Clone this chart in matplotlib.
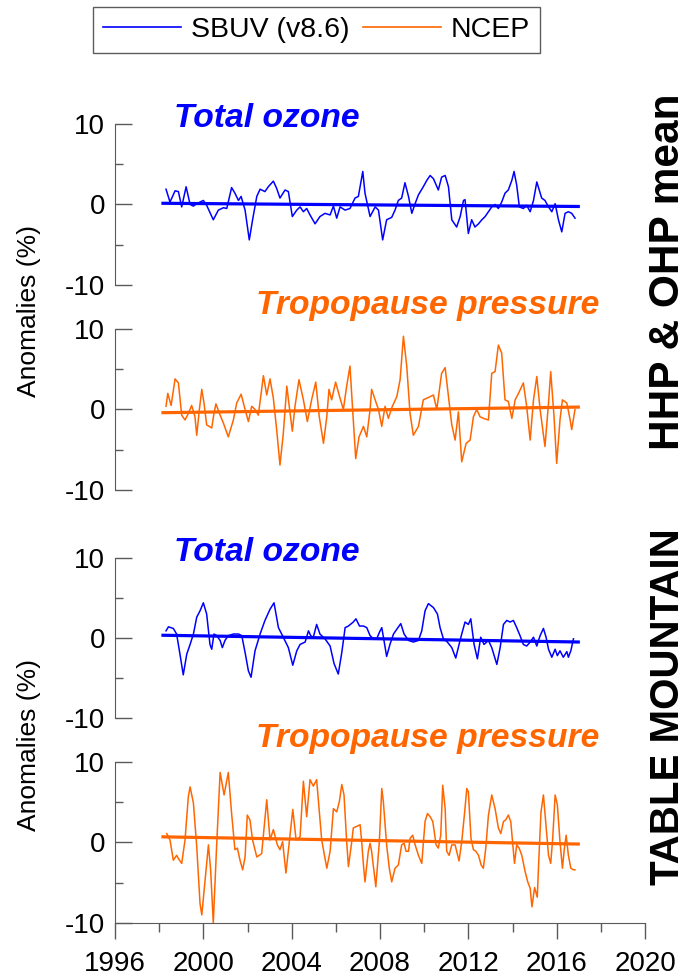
import matplotlib
matplotlib.use('Agg')
import matplotlib.pyplot as plt
from matplotlib.ticker import MultipleLocator

plt.rcParams['font.family'] = ['Liberation Sans', 'DejaVu Sans']
plt.rcParams['axes.unicode_minus'] = False

BLUE = '#0000FF'
ORANGE = '#FF6600'

# --- HHP & OHP mean, SBUV total ozone anomalies (%)
yrs_hhp_o3 = [1998.31, 1998.49, 1998.72, 1998.87, 1999.02, 1999.22, 1999.40, 1999.55, 1999.70, 2000.00,
              2000.15, 2000.45, 2000.68, 2000.91, 2001.06, 2001.28, 2001.43, 2001.59, 2001.71, 2001.89,
              2002.08, 2002.23, 2002.42, 2002.57, 2002.79, 2002.94, 2003.17, 2003.32, 2003.47, 2003.70,
              2003.85, 2004.03, 2004.23, 2004.38, 2004.53, 2004.68, 2004.83, 2005.06, 2005.28, 2005.51,
              2005.74, 2005.89, 2006.04, 2006.19, 2006.42, 2006.64, 2006.87, 2007.02, 2007.22, 2007.32,
              2007.55, 2007.78, 2007.93, 2008.12, 2008.30, 2008.53, 2008.68, 2008.83, 2008.98, 2009.13,
              2009.29, 2009.44, 2009.59, 2009.74, 2009.96, 2010.12, 2010.27, 2010.42, 2010.64, 2010.79,
              2010.95, 2011.10, 2011.25, 2011.47, 2011.63, 2011.78, 2011.85, 2012.00, 2012.15, 2012.30,
              2012.46, 2012.61, 2012.76, 2012.91, 2013.06, 2013.21, 2013.36, 2013.51, 2013.66, 2013.81,
              2013.97, 2014.07, 2014.19, 2014.31, 2014.49, 2014.64, 2014.80, 2014.95, 2015.10, 2015.32,
              2015.47, 2015.63, 2015.78, 2015.93, 2016.08, 2016.23, 2016.38, 2016.53, 2016.68, 2016.83]
hhp_o3 = [1.9, 0.3, 1.7, 1.6, -0.3, 2.2, 0.0, -0.2, 0.1, 0.5,
          -0.1, -1.9, -0.7, -0.4, -0.5, 2.1, 1.4, 0.5, 1.0, -0.7,
          -4.4, -1.9, 1.0, 1.9, 1.6, 2.2, 2.9, 2.0, 0.8, 1.8,
          1.6, -1.5, -0.7, -0.3, -0.9, -0.5, -1.3, -2.4, -1.5, -1.1,
          -1.3, -0.2, -1.7, -0.3, -0.7, -0.5, 0.8, 1.0, 4.1, 1.4,
          -1.5, -0.3, -0.7, -4.4, -1.9, -1.6, -0.7, 0.5, 0.8, 2.7,
          1.0, -1.1, 0.1, 1.2, 2.2, 3.0, 3.6, 3.2, 1.8, 3.4,
          3.6, 2.2, -1.9, -2.8, -1.5, 0.5, 0.6, -3.6, -1.9, -2.8,
          -2.4, -1.9, -1.5, -0.9, -0.3, 0.0, -0.5, 0.3, 1.4, 1.8,
          3.0, 4.1, 2.4, -0.3, -0.5, -0.1, -0.9, 0.5, 2.8, 0.8,
          0.5, -0.3, -0.9, 0.1, -1.9, -3.4, -1.1, -0.9, -1.1, -1.7]

# --- HHP & OHP mean, NCEP tropopause pressure anomalies (%)
yrs_hhp_tp = [1998.31, 1998.39, 1998.54, 1998.72, 1998.87, 1999.02, 1999.17, 1999.32, 1999.47, 1999.62,
              1999.70, 1999.82, 1999.93, 2000.03, 2000.15, 2000.38, 2000.48, 2000.57, 2000.73, 2000.91,
              2001.13, 2001.36, 2001.51, 2001.71, 2001.89, 2002.04, 2002.19, 2002.34, 2002.49, 2002.72,
              2002.87, 2003.02, 2003.17, 2003.32, 2003.47, 2003.62, 2003.78, 2003.93, 2004.03, 2004.15,
              2004.33, 2004.53, 2004.71, 2004.91, 2005.09, 2005.25, 2005.44, 2005.59, 2005.69, 2005.81,
              2005.99, 2006.19, 2006.34, 2006.49, 2006.64, 2006.76, 2006.90, 2007.05, 2007.25, 2007.40,
              2007.55, 2007.62, 2007.78, 2007.93, 2008.08, 2008.23, 2008.38, 2008.53, 2008.76, 2008.91,
              2009.06, 2009.21, 2009.36, 2009.51, 2009.74, 2009.96, 2010.12, 2010.27, 2010.42, 2010.57,
              2010.79, 2010.95, 2011.10, 2011.25, 2011.40, 2011.55, 2011.70, 2011.90, 2012.08, 2012.23,
              2012.38, 2012.53, 2012.68, 2012.91, 2013.06, 2013.21, 2013.36, 2013.51, 2013.66, 2013.81,
              2013.97, 2014.12, 2014.27, 2014.49, 2014.64, 2014.80, 2014.95, 2015.10, 2015.25, 2015.47,
              2015.63, 2015.73, 2015.88, 2016.00, 2016.15, 2016.26, 2016.46, 2016.61, 2016.68, 2016.83]
hhp_tp = [0.4, 2.0, 0.5, 3.8, 3.3, -0.7, -1.3, -0.5, 0.5, -0.9,
          -3.2, 0.0, 2.5, 0.8, -1.9, -2.3, -0.5, 0.7, -0.5, -1.7,
          -3.4, -1.3, 0.8, 1.9, 0.0, -1.5, 0.4, 0.0, -0.7, 4.2,
          1.8, 3.8, 1.4, -2.5, -6.9, -3.0, 2.9, -0.5, -2.7, 0.4,
          3.7, 1.2, -1.5, 1.3, 3.4, -0.9, -4.2, -0.9, 2.5, 1.2,
          3.4, 1.4, 0.0, 2.9, 5.4, 0.0, -6.1, -3.4, -2.1, -3.4,
          0.0, 2.5, 1.2, 0.0, -2.1, 0.4, -1.1, 0.2, 1.6, 3.7,
          9.1, 5.4, -0.5, -3.2, -2.1, 1.2, 1.4, 1.6, 1.8, 0.0,
          4.5, 5.2, 1.6, -1.9, -3.8, -0.3, -6.5, -4.2, -3.8, -0.9,
          0.0, -0.9, -1.1, -1.3, 4.5, 4.7, 8.0, 7.0, 1.2, 1.0,
          -1.1, 1.2, 2.0, 3.3, 0.4, -3.8, 1.2, 4.1, 0.0, -4.6,
          0.8, 4.7, -0.9, -6.7, -1.3, 1.2, 0.8, -1.3, -2.5, 0.0]

# --- Table Mountain, SBUV total ozone anomalies (%)
yrs_tmo_o3 = [1998.31, 1998.42, 1998.64, 1998.79, 1998.94, 1999.09, 1999.25, 1999.40, 1999.55, 1999.70,
              1999.85, 2000.00, 2000.15, 2000.30, 2000.38, 2000.48, 2000.60, 2000.76, 2000.86, 2000.98,
              2001.13, 2001.36, 2001.59, 2001.74, 2001.89, 2002.04, 2002.16, 2002.34, 2002.57, 2002.79,
              2003.02, 2003.20, 2003.40, 2003.62, 2003.85, 2004.05, 2004.23, 2004.38, 2004.61, 2004.76,
              2004.86, 2004.98, 2005.13, 2005.28, 2005.51, 2005.74, 2005.92, 2006.11, 2006.27, 2006.42,
              2006.57, 2006.79, 2006.91, 2007.07, 2007.25, 2007.40, 2007.55, 2007.70, 2007.85, 2007.97,
              2008.08, 2008.18, 2008.30, 2008.45, 2008.61, 2008.76, 2008.94, 2009.09, 2009.29, 2009.51,
              2009.74, 2009.89, 2010.04, 2010.19, 2010.42, 2010.60, 2010.72, 2010.87, 2011.05, 2011.25,
              2011.43, 2011.58, 2011.70, 2011.85, 2012.00, 2012.11, 2012.26, 2012.41, 2012.56, 2012.71,
              2012.91, 2013.06, 2013.29, 2013.44, 2013.59, 2013.74, 2013.89, 2014.04, 2014.19, 2014.34,
              2014.49, 2014.64, 2014.80, 2014.95, 2015.10, 2015.25, 2015.40, 2015.52, 2015.63, 2015.78,
              2015.93, 2016.03, 2016.15, 2016.30, 2016.46, 2016.53, 2016.64, 2016.76]
tmo_o3 = [0.9, 1.4, 1.2, 0.5, -2.0, -4.6, -2.0, -0.8, 0.5, 2.6,
          3.4, 4.4, 3.0, -0.8, -1.4, 0.5, 0.3, -0.3, -1.2, -0.3,
          0.3, 0.5, 0.5, 0.3, -1.8, -4.1, -4.9, -1.6, 0.5, 2.2,
          3.6, 4.4, 1.3, 0.1, -1.2, -3.4, -1.6, -0.8, -0.5, 0.9,
          0.3, 0.1, 1.7, 0.5, -0.1, -1.0, -3.2, -4.5, -1.8, 1.3,
          1.5, 2.0, 2.4, 1.5, 1.5, 1.3, 0.3, -0.1, -0.1, 0.7,
          1.3, -0.3, -2.3, -0.8, 0.5, 1.1, 1.8, 0.5, -0.3, -0.5,
          -0.3, 0.9, 3.4, 4.3, 3.8, 3.0, 1.3, -0.1, -0.5, -1.2,
          -2.5, -0.8, 0.5, 2.0, 1.7, 2.4, -0.8, -2.6, 0.1, -0.8,
          -0.3, -1.2, -3.3, -1.2, 1.7, 2.2, 2.0, 2.2, 1.3, 0.3,
          -0.8, -1.0, -0.5, 0.1, -1.0, 0.3, 1.2, 0.1, -1.4, -2.4,
          -1.4, -2.2, -1.6, -2.4, -1.7, -2.4, -1.6, -0.1]

# --- Table Mountain, NCEP tropopause pressure anomalies (%)
yrs_tmo_tp = [1998.34, 1998.49, 1998.64, 1998.79, 1998.87, 1999.02, 1999.17, 1999.32, 1999.40, 1999.55,
              1999.70, 1999.85, 1999.93, 2000.08, 2000.23, 2000.33, 2000.45, 2000.60, 2000.76, 2000.94,
              2001.13, 2001.28, 2001.43, 2001.54, 2001.66, 2001.78, 2001.89, 2001.99, 2002.11, 2002.23,
              2002.42, 2002.64, 2002.87, 2003.02, 2003.17, 2003.35, 2003.47, 2003.59, 2003.74, 2003.90,
              2004.05, 2004.20, 2004.38, 2004.53, 2004.68, 2004.83, 2004.98, 2005.13, 2005.36, 2005.59,
              2005.74, 2005.89, 2006.04, 2006.16, 2006.27, 2006.37, 2006.49, 2006.57, 2006.72, 2006.79,
              2006.94, 2007.10, 2007.17, 2007.25, 2007.32, 2007.47, 2007.55, 2007.62, 2007.81, 2007.97,
              2008.08, 2008.15, 2008.30, 2008.42, 2008.53, 2008.68, 2008.83, 2008.98, 2009.09, 2009.18,
              2009.29, 2009.36, 2009.48, 2009.59, 2009.74, 2009.89, 2010.04, 2010.15, 2010.27, 2010.39,
              2010.54, 2010.64, 2010.75, 2010.84, 2010.95, 2011.02, 2011.13, 2011.25, 2011.40, 2011.58,
              2011.70, 2011.82, 2011.93, 2012.00, 2012.12, 2012.23, 2012.34, 2012.46, 2012.58, 2012.68,
              2012.79, 2012.91, 2013.06, 2013.21, 2013.36, 2013.47, 2013.59, 2013.69, 2013.81, 2013.92,
              2014.00, 2014.09, 2014.19, 2014.30, 2014.42, 2014.57, 2014.69, 2014.80, 2014.88, 2015.00,
              2015.12, 2015.20, 2015.29, 2015.40, 2015.50, 2015.63, 2015.73, 2015.82, 2015.93, 2016.03,
              2016.15, 2016.26, 2016.35, 2016.43, 2016.53, 2016.64, 2016.76, 2016.83]
tmo_tp = [1.1, 0.3, -2.2, -1.6, -2.0, -2.6, 0.3, 5.7, 6.9, 4.9,
          -0.5, -7.6, -9.0, -4.7, -0.3, -3.4, -10.0, -0.5, 8.7, 5.9,
          8.7, 3.6, -0.9, -0.7, -2.2, -3.4, -1.8, 3.4, 2.8, 0.3,
          -1.8, -1.4, 5.3, 0.3, 1.6, -0.3, -0.9, 0.1, -3.8, 0.3,
          4.1, 0.3, 0.7, 7.6, 3.2, 7.8, 7.0, 7.8, 0.3, -3.2,
          -1.1, 4.2, 3.8, 5.1, 7.2, 5.9, 0.1, -3.0, 0.1, 1.8,
          2.0, 2.2, 0.1, -2.8, -4.9, -1.1, -0.1, -1.1, -5.5, 0.1,
          6.7, 5.1, -0.3, -3.2, -4.9, -3.2, -2.8, -0.3, -0.1, -1.1,
          -1.1, 0.5, 0.9, -0.3, -1.6, -2.6, 2.6, 3.6, 3.2, 2.6,
          -0.3, -0.7, 0.9, 7.1, 4.2, -1.1, -1.6, -0.3, -0.3, -2.3,
          0.1, 3.4, 6.7, 6.3, 0.5, -0.9, -1.1, -1.6, -2.8, -3.2,
          -0.7, 3.4, 5.9, 4.2, 1.8, 1.1, 2.6, 2.8, 3.4, 2.6,
          0.1, -2.6, -0.3, -0.7, -1.6, -3.6, -4.9, -5.7, -8.0, -5.6,
          -6.8, -1.6, 3.8, 5.9, 2.6, -1.6, -2.6, 0.5, 5.9, 4.7,
          0.1, -3.2, -0.7, 0.9, -1.6, -3.2, -3.4, -3.4]

# linear trend end points (start / end of record)
trend_yrs = [1998.1, 2017.05]
hhp_o3_trend = [0.15, -0.25]
hhp_tp_trend = [-0.4, 0.3]
tmo_o3_trend = [0.35, -0.5]
tmo_tp_trend = [0.7, -0.2]

xticks = [1996, 2000, 2004, 2008, 2012, 2016, 2020]

panels = [
    (yrs_hhp_o3, hhp_o3, hhp_o3_trend, BLUE, 'Total ozone'),
    (yrs_hhp_tp, hhp_tp, hhp_tp_trend, ORANGE, 'Tropopause pressure'),
    (yrs_tmo_o3, tmo_o3, tmo_o3_trend, BLUE, 'Total ozone'),
    (yrs_tmo_tp, tmo_tp, tmo_tp_trend, ORANGE, 'Tropopause pressure'),
]
# axes rectangles in figure fraction
rects = [
    [0.1662, 0.7092, 0.7659, 0.1643],
    [0.1662, 0.5000, 0.7659, 0.1643],
    [0.1662, 0.2673, 0.7659, 0.1633],
    [0.1662, 0.0582, 0.7659, 0.1643],
]
title_pos = {'Total ozone': (0.286, 1.035), 'Tropopause pressure': (0.59, 1.145)}

fig = plt.figure(figsize=(6.92, 9.8), dpi=100)
spine_col = '#5a5a5a'

axes = []
for i, (yrs, vals, trend, col, title) in enumerate(panels):
    ax = fig.add_axes(rects[i])
    ax.plot(yrs, vals, color=col, lw=1.1)
    ax.plot(trend_yrs, trend, color=col, lw=2.3, solid_capstyle='butt')
    ax.set_xlim(1996, 2020)
    ax.set_ylim(-10, 10)
    ax.set_yticks([-10, 0, 10])
    ax.yaxis.set_minor_locator(MultipleLocator(5))
    ax.tick_params(axis='y', which='major', direction='in', length=12, width=1,
                   color=spine_col, labelsize=20, pad=7)
    ax.tick_params(axis='y', which='minor', direction='in', length=6, width=1, color=spine_col)
    for s in ['top', 'right']:
        ax.spines[s].set_visible(False)
    ax.spines['left'].set_color(spine_col)
    ax.patch.set_alpha(0)
    if i < 3:
        ax.spines['bottom'].set_visible(False)
        ax.set_xticks([])
    else:
        ax.spines['bottom'].set_color(spine_col)
        ax.set_xticks(xticks)
        ax.xaxis.set_minor_locator(MultipleLocator(2))
        ax.tick_params(axis='x', which='major', direction='out', length=11.5, width=1,
                       color=spine_col, labelsize=20, pad=9)
        ax.tick_params(axis='x', which='minor', direction='out', length=6.5, width=1,
                       color=spine_col)
    tx, ty = title_pos[title]
    ax.text(tx, ty, title, transform=ax.transAxes, ha='center', va='center',
            fontsize=24.2, fontweight='bold', style='italic', color=col)
    axes.append(ax)

fig.text(0.042, 0.6827, 'Anomalies (%)', rotation=90, ha='center', va='center', fontsize=19)
fig.text(0.042, 0.2398, 'Anomalies (%)', rotation=90, ha='center', va='center', fontsize=19)
fig.text(0.965, 0.7224, 'HHP & OHP mean', rotation=90, ha='center', va='center',
         fontsize=30.5, fontweight='bold')
fig.text(0.965, 0.2786, 'TABLE MOUNTAIN', rotation=90, ha='center', va='center',
         fontsize=29, fontweight='bold')

h1, = axes[0].plot([], [], color=BLUE, lw=1.2)
h2, = axes[1].plot([], [], color=ORANGE, lw=1.2)
leg = fig.legend([h1, h2], ['SBUV (v8.6)', 'NCEP'], loc='center',
                 bbox_to_anchor=(316.5 / 692, 1 - 30 / 980), ncol=2, fontsize=20.5,
                 frameon=True, fancybox=False, handlelength=2.75, handletextpad=0.35,
                 columnspacing=0.45, borderpad=0.35, borderaxespad=0)
leg.get_frame().set_edgecolor('#333333')
leg.get_frame().set_linewidth(1.0)

fig.savefig('out.png', dpi=100)
